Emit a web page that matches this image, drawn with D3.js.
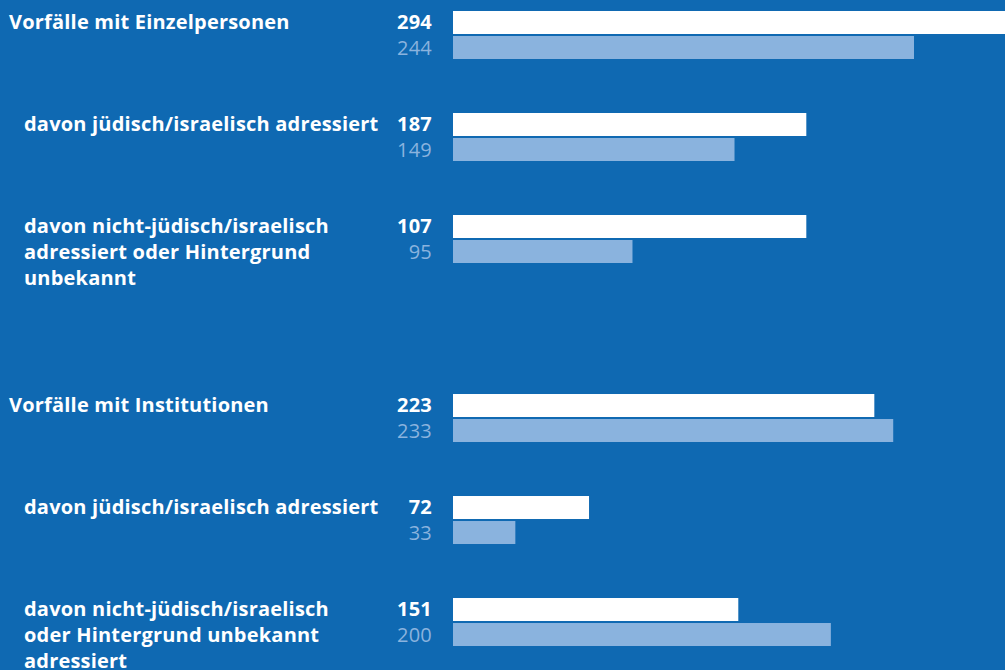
<!DOCTYPE html>
<html>
<head>
<meta charset="utf-8">
<script src="https://cdn.jsdelivr.net/npm/d3@7"></script>
<style>
  html, body { margin: 0; padding: 0; background: #0f69b2; }
  svg { display: block; }
  text { font-family: "Open Sans", sans-serif; letter-spacing: 0.2px; }
</style>
</head>
<body>
<div id="chart"></div>
<script>
var width = 1005,
	height = 670;

// labels, one array entry per line
var categories = [
	['Vorfälle mit Einzelpersonen'],
	['davon jüdisch/israelisch adressiert'],
	['davon nicht-jüdisch/israelisch', 'adressiert oder Hintergrund', 'unbekannt'],
	['Vorfälle mit Institutionen'],
	['davon jüdisch/israelisch adressiert'],
	['davon nicht-jüdisch/israelisch', 'oder Hintergrund unbekannt', 'adressiert']
];
var isSub = [false, true, true, false, true, true];

var current = [294, 187, 107, 223, 72, 151];
var previous = [244, 149, 95, 233, 33, 200];
// bar lengths as drawn in the original (the 107 bar is drawn at the 187 length there)
var currentBar = [294, 187, 187, 223, 72, 151];

// slot position of each group (a wider gap before the second block)
var slots = [0, 1, 2, 3.755, 4.755, 5.755];

var svg = d3.select('#chart').append('svg')
	.attr('width', width)
	.attr('height', height);

var x = d3.scaleLinear().domain([0, 244]).range([453, 914]);
var y = d3.scaleLinear().domain([0, 1]).range([11, 113]);

var barH = 23, gap = 2;

var groups = svg.selectAll('g.group')
	.data(categories)
	.enter().append('g')
	.attr('class', 'group')
	.attr('transform', function(d, i){ return 'translate(0,' + y(slots[i]) + ')'; });

groups.append('rect')
	.attr('x', x(0))
	.attr('y', 0)
	.attr('height', barH)
	.attr('width', function(d, i){ return x(currentBar[i]) - x(0); })
	.attr('fill', '#ffffff');

groups.append('rect')
	.attr('x', x(0))
	.attr('y', barH + gap)
	.attr('height', barH)
	.attr('width', function(d, i){ return x(previous[i]) - x(0); })
	.attr('fill', '#8ab3de');

groups.append('text')
	.attr('x', 432)
	.attr('y', 18)
	.attr('text-anchor', 'end')
	.attr('font-size', 20)
	.attr('font-weight', 'bold')
	.attr('fill', '#ffffff')
	.text(function(d, i){ return current[i]; });

groups.append('text')
	.attr('x', 432)
	.attr('y', 44)
	.attr('text-anchor', 'end')
	.attr('font-size', 20)
	.attr('fill', '#8ab3de')
	.text(function(d, i){ return previous[i]; });

var labels = groups.append('text')
	.attr('x', function(d, i){ return isSub[i] ? 24 : 9; })
	.attr('y', 18)
	.attr('font-size', 20)
	.attr('font-weight', 'bold')
	.attr('fill', '#ffffff');

labels.selectAll('tspan')
	.data(function(d){ return d; })
	.enter().append('tspan')
	.attr('x', function(){ return d3.select(this.parentNode).attr('x'); })
	.attr('dy', function(d, j){ return j === 0 ? 0 : 26; })
	.text(function(d){ return d; });
</script>
</body>
</html>
